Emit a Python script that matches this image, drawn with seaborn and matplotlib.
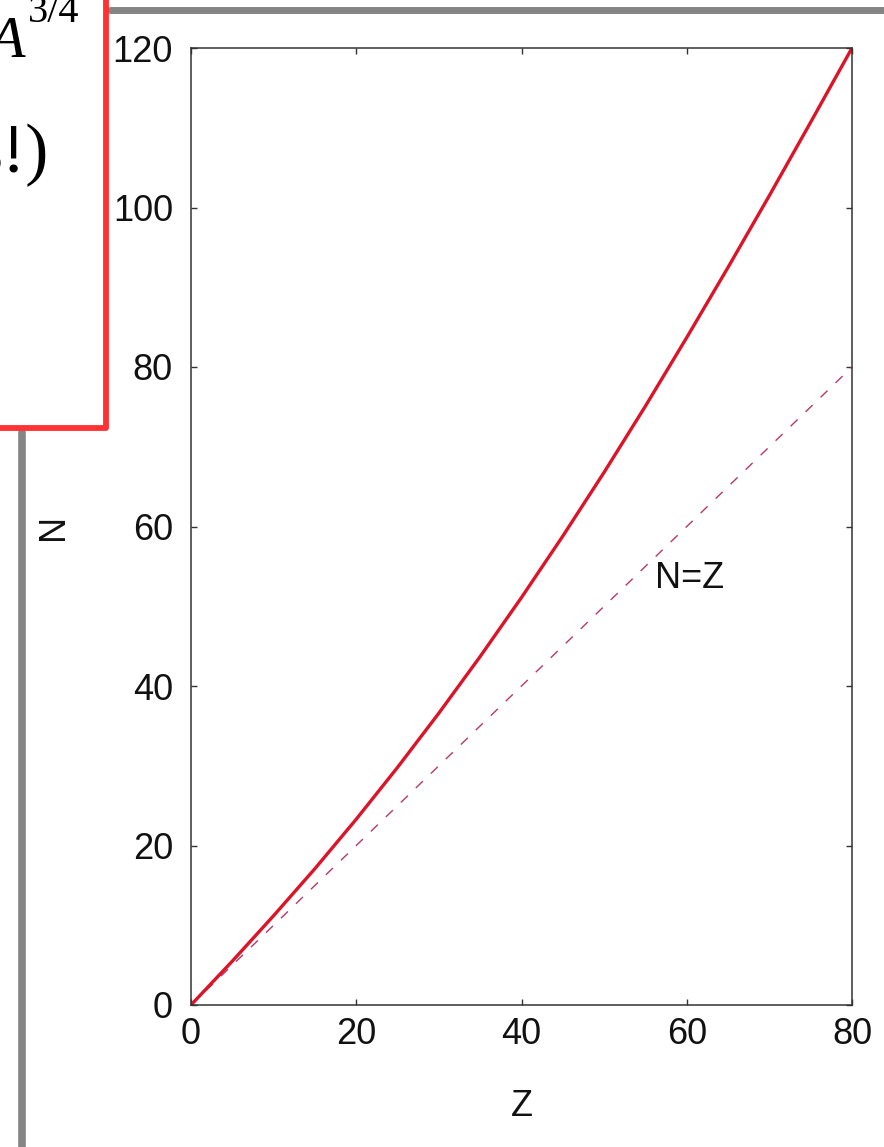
import numpy as np
import pandas as pd
import matplotlib
matplotlib.use("Agg")
import matplotlib.pyplot as plt
from matplotlib.lines import Line2D
import seaborn as sns

# Stability line: neutron number N versus proton number Z
z_values = [0, 5, 10, 15, 20, 25, 30, 35, 40, 45, 50, 55, 60, 65, 70, 75, 80]
n_values = [0, 5.5, 11.2, 17.1, 23.3, 29.8, 36.6, 43.7, 51.1, 58.8, 66.8,
            75.1, 83.7, 92.5, 101.5, 110.7, 120.0]
# Reference line N = Z
diag_z = [0, 80]
diag_n = [0, 80]

x_ticks = [0, 20, 40, 60, 80]
y_ticks = [0, 20, 40, 60, 80, 100, 120]

sns.set_style("ticks")
plt.rcParams["font.family"] = ["Liberation Sans", "DejaVu Sans"]

W, H = 884, 1147
fig = plt.figure(figsize=(W / 100, H / 100), dpi=100)
fig.patch.set_facecolor("white")

left, right, top, bottom = 191, 852, 48, 1005
ax = fig.add_axes([left / W, 1 - bottom / H, (right - left) / W, (bottom - top) / H])

curve = pd.DataFrame({"Z": z_values, "N": n_values})
diag = pd.DataFrame({"Z": diag_z, "N": diag_n})

sns.lineplot(data=diag, x="Z", y="N", ax=ax, color="#b8386a", linewidth=1.0,
             linestyle=(0, (7, 8)))
sns.lineplot(data=curve, x="Z", y="N", ax=ax, color="#dc1428", linewidth=2.4)

ax.set_xlim(0, 80)
ax.set_ylim(0, 120)
ax.set_xticks(x_ticks)
ax.set_yticks(y_ticks)
ax.tick_params(direction="in", length=4.5, width=1, top=True, right=True,
               labelsize=26, labelcolor="#111111", color="#333333")
ax.tick_params(axis="y", pad=13)
ax.tick_params(axis="x", pad=9)
for sp in ax.spines.values():
    sp.set_visible(True)
    sp.set_color("#333333")
    sp.set_linewidth(1.1)

ax.set_xlabel("Z", fontsize=26, labelpad=26, color="#111111")
ax.set_ylabel("N", fontsize=26, labelpad=30, color="#111111")

ax.text(60.4, 53.5, "N=Z", fontsize=26, ha="center", va="center", color="#111111")

# Slide frame lines
fig.add_artist(Line2D([110 / W, 1.0], [1 - 9.5 / H, 1 - 9.5 / H],
                      transform=fig.transFigure, color="#858585", linewidth=5))
fig.add_artist(Line2D([21.5 / W, 21.5 / W], [1 - 432 / H, 0.0],
                      transform=fig.transFigure, color="#858585", linewidth=5.5))
# Red callout box
fig.add_artist(Line2D([-0.05, 106 / W, 106 / W], [1 - 428 / H, 1 - 428 / H, 1.05],
                      transform=fig.transFigure, color="#ff3333", linewidth=4.2,
                      solid_joinstyle="round"))

# Callout text
serif = ["Liberation Serif", "DejaVu Serif"]
fig.text(25 / W, 1 - 57 / H, "A", fontsize=43, ha="right", va="baseline",
         family=serif, style="italic", color="black")
fig.text(28 / W, 1 - 22 / H, "3/4", fontsize=29, ha="left", va="baseline",
         family=serif, color="black")
fig.text(48 / W, 1 - 172 / H, "s!)", fontsize=50, ha="right", va="baseline",
         family=serif, color="black")

fig.savefig("out.png", dpi=100, facecolor="white")
